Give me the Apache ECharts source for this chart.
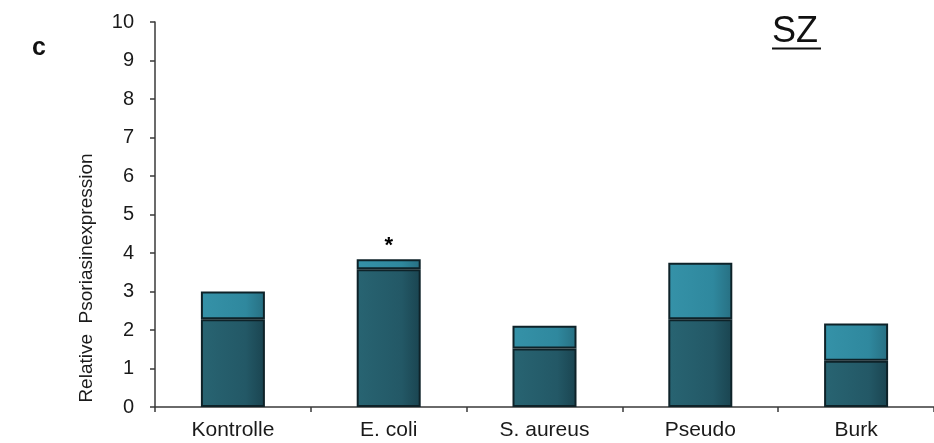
<!DOCTYPE html>
<html>
<head>
<meta charset="utf-8">
<script src="https://cdn.jsdelivr.net/npm/echarts@6/dist/echarts.min.js"></script>
<style>
  html, body { margin: 0; padding: 0; background: #fff; }
  #chart { width: 934px; height: 443px; }
</style>
</head>
<body>
<div id="chart"></div>
<script>
// Relative psoriasin expression per stimulus (SZ)
const categories = ['Kontrolle', 'E. coli', 'S. aureus', 'Pseudo', 'Burk'];
const baseValues = [2.28, 3.58, 1.52, 2.28, 1.20];   // lower (dark) segment
const upperValues = [0.72, 0.26, 0.59, 1.47, 0.97];  // upper (light) segment
const significance = ['', '*', '', '', ''];
const yTicks = [0, 1, 2, 3, 4, 5, 6, 7, 8, 9, 10];

const font = 'Liberation Sans, Arial, Helvetica, sans-serif';

const darkFill = new echarts.graphic.LinearGradient(0, 0, 1, 0, [
  { offset: 0, color: '#286472' },
  { offset: 0.7, color: '#235866' },
  { offset: 1, color: '#1a4450' }
]);
const lightFill = new echarts.graphic.LinearGradient(0, 0, 1, 0, [
  { offset: 0, color: '#3592a8' },
  { offset: 0.7, color: '#2f889e' },
  { offset: 1, color: '#276f82' }
]);

const chart = echarts.init(document.getElementById('chart'), null, { renderer: 'canvas' });

chart.setOption({
  animation: false,
  backgroundColor: '#ffffff',
  grid: { left: 155, right: -4, top: 22, bottom: 36 },
  xAxis: {
    type: 'category',
    data: categories,
    axisLine: { lineStyle: { color: '#3a3a3a', width: 1.5 } },
    axisTick: { show: true, alignWithLabel: false, length: 5, lineStyle: { color: '#3a3a3a', width: 1.5 } },
    axisLabel: { color: '#1a1a1a', fontSize: 21, fontFamily: font, margin: 13 }
  },
  yAxis: {
    type: 'value',
    min: yTicks[0],
    max: yTicks[yTicks.length - 1],
    interval: 1,
    splitLine: { show: false },
    axisLine: { show: true, lineStyle: { color: '#3a3a3a', width: 1.5 } },
    axisTick: { show: true, length: 5, lineStyle: { color: '#3a3a3a', width: 1.5 } },
    axisLabel: { color: '#1a1a1a', fontSize: 20, fontFamily: font, margin: 21 }
  },
  series: [
    {
      type: 'bar',
      stack: 'expr',
      barWidth: 64,
      data: baseValues,
      itemStyle: { color: darkFill, borderColor: '#0e2228', borderWidth: 2 }
    },
    {
      type: 'bar',
      stack: 'expr',
      barWidth: 64,
      data: upperValues.map((v, i) => ({
        value: v,
        label: {
          show: significance[i] !== '',
          formatter: significance[i],
          position: 'top',
          distance: 2,
          color: '#000',
          fontSize: 22,
          fontWeight: 'bold',
          fontFamily: font
        }
      })),
      itemStyle: { color: lightFill, borderColor: '#0e2228', borderWidth: 2 }
    }
  ],
  graphic: [
    {
      type: 'text',
      x: 87,
      y: 278,
      rotation: Math.PI / 2,
      style: {
        text: 'Relative  Psoriasinexpression',
        fill: '#1a1a1a',
        font: '19px ' + font,
        align: 'center',
        verticalAlign: 'middle'
      }
    },
    {
      type: 'text',
      left: 32,
      top: 36,
      style: { text: 'c', fill: '#111', font: 'bold 25px ' + font }
    },
    {
      type: 'text',
      x: 772,
      y: 32,
      style: { text: 'SZ', fill: '#111', font: '36px ' + font, align: 'left', verticalAlign: 'middle' }
    },
    {
      type: 'line',
      shape: { x1: 772, y1: 48.5, x2: 821, y2: 48.5 },
      style: { stroke: '#111', lineWidth: 2 }
    }
  ]
});
</script>
</body>
</html>
